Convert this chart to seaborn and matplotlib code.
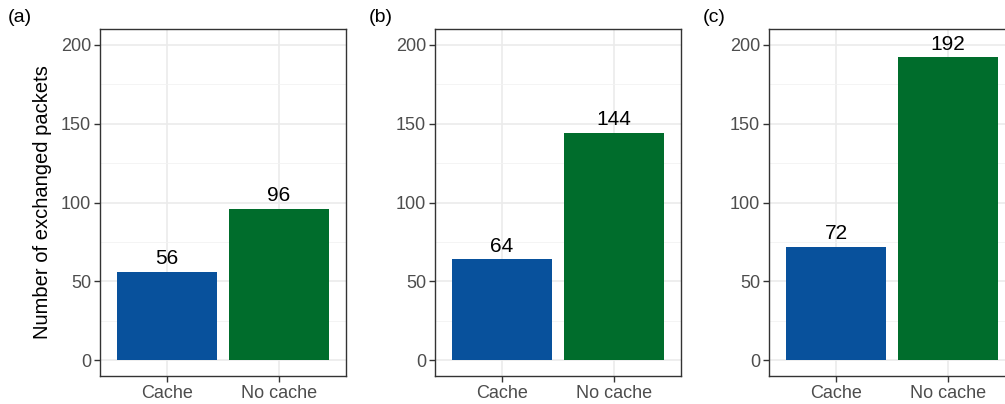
import matplotlib
matplotlib.use("Agg")
import matplotlib.pyplot as plt
from matplotlib.ticker import MultipleLocator
import pandas as pd
import seaborn as sns

# Packets exchanged per scenario, with and without caching
panels = ["(a)", "(b)", "(c)"]
methods = ["Cache", "No cache"]
cache_packets = [56, 64, 72]
nocache_packets = [96, 144, 192]
bar_colors = ["#08519C", "#006D2C"]
y_ticks = [0, 50, 100, 150, 200]

rows = []
for p, c, n in zip(panels, cache_packets, nocache_packets):
    rows.append({"panel": p, "method": methods[0], "packets": c})
    rows.append({"panel": p, "method": methods[1], "packets": n})
df = pd.DataFrame(rows)

sns.set_theme(style="white")
plt.rcParams["font.family"] = ["Liberation Sans", "DejaVu Sans"]

fig = plt.figure(figsize=(10.05, 4.04), dpi=100)
W, H = 1005, 404
lefts = [100, 435, 769]
tag_x = [8, 369, 703]
ax_w = 246
ax_top, ax_bot = 29, 376

for i, p in enumerate(panels):
    ax = fig.add_axes([lefts[i] / W, 1 - ax_bot / H, ax_w / W, (ax_bot - ax_top) / H])
    sub = df[df["panel"] == p]
    sns.barplot(data=sub, x="method", y="packets", hue="method",
                palette=bar_colors, order=methods, hue_order=methods,
                width=0.9, saturation=1, legend=False, ax=ax,
                linewidth=0, edgecolor="none", zorder=3)
    ax.set_xlim(-0.6, 1.6)
    ax.set_ylim(-10, 210)
    ax.set_yticks(y_ticks)
    ax.yaxis.set_minor_locator(MultipleLocator(25))

    ax.grid(True, which="major", color="#EBEBEB", linewidth=1.2, zorder=0)
    ax.grid(True, which="minor", axis="y", color="#F2F2F2", linewidth=0.6, zorder=0)
    ax.set_axisbelow(True)

    for s in ax.spines.values():
        s.set_visible(True)
        s.set_color("#333333")
        s.set_linewidth(1.0)

    ax.tick_params(axis="both", which="major", direction="out", length=4.5,
                   width=1.0, color="#333333", labelcolor="#4D4D4D",
                   labelsize=13, bottom=True, left=True)
    ax.tick_params(axis="x", pad=2)
    ax.tick_params(axis="y", pad=2)
    ax.tick_params(which="minor", length=0)

    ax.set_xlabel("")
    if i == 0:
        ax.set_ylabel("Number of exchanged packets", fontsize=14.5,
                      color="black", labelpad=6)
    else:
        ax.set_ylabel("")

    for j, m in enumerate(methods):
        v = int(sub.loc[sub["method"] == m, "packets"].iloc[0])
        ax.annotate(str(v), xy=(j, v), xytext=(0, 5.5), textcoords="offset points",
                    ha="center", va="baseline", fontsize=15, color="black")

    fig.text(tag_x[i] / W, 1 - 9 / H, p, ha="left", va="top",
             fontsize=14, color="black")

fig.savefig("out.png", dpi=100)
